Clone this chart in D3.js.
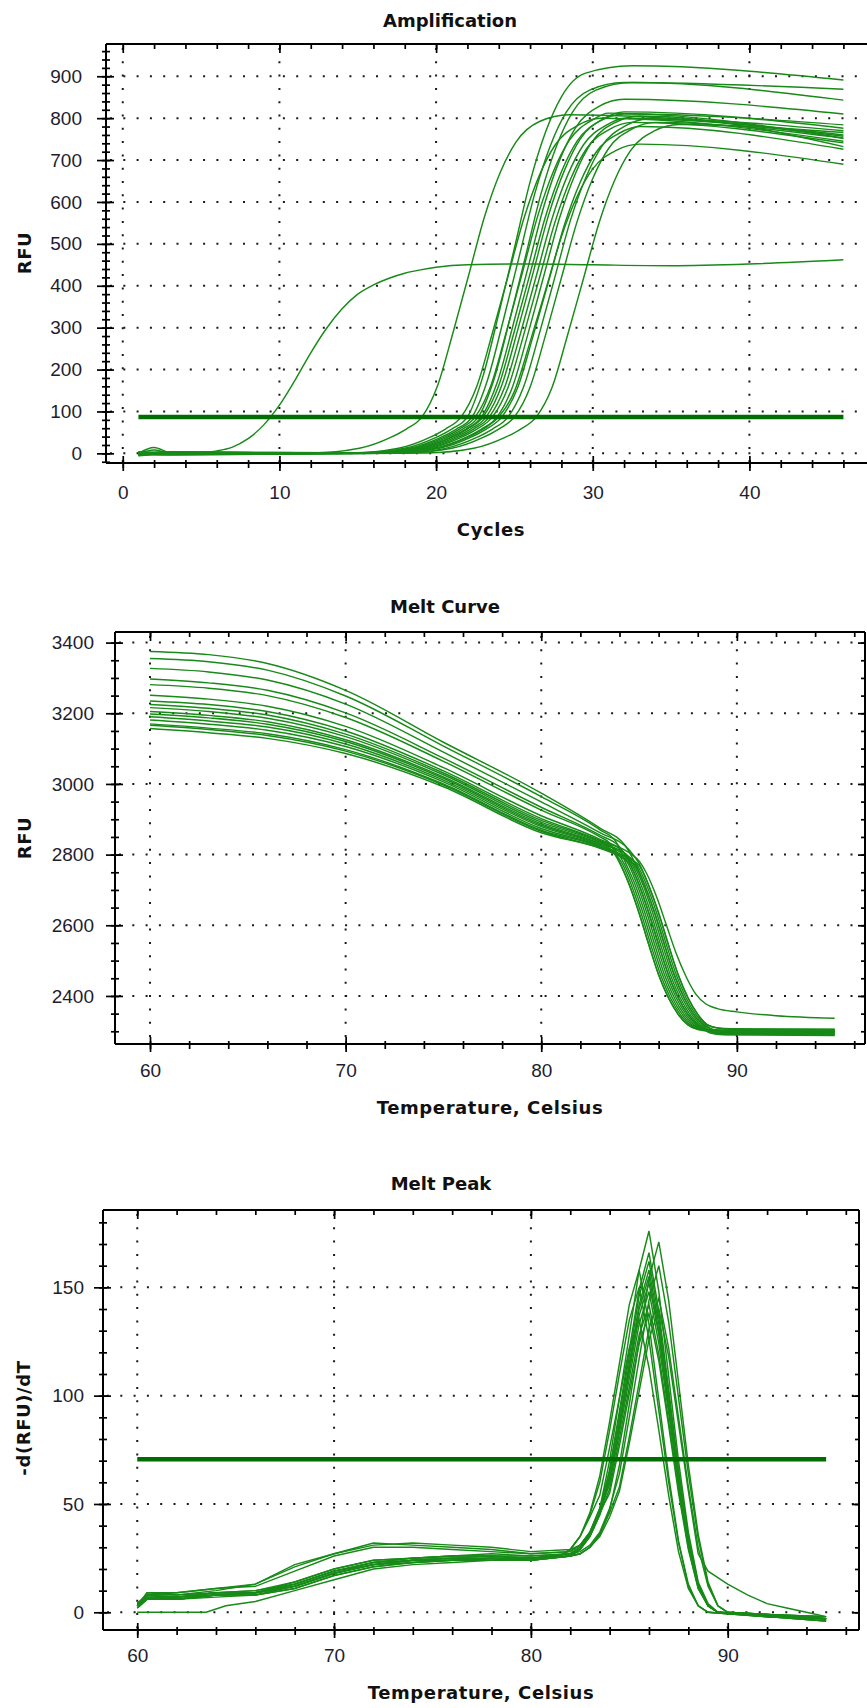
<!DOCTYPE html>
<html>
<head>
<meta charset="utf-8">
<script src="https://cdn.jsdelivr.net/npm/d3@7"></script>
<style>
  body { margin: 0; background: #fff; }
  svg { display: block; }
  .ttl { font-family: "DejaVu Sans", sans-serif; font-weight: bold; font-size: 18px; fill: #111; }
  .alab { font-family: "DejaVu Sans", sans-serif; font-weight: bold; font-size: 18px; fill: #111; letter-spacing: 0.6px; }
  .tick text { font-family: "Liberation Sans", Arial, sans-serif; font-size: 19px; fill: #1d1d30; }
</style>
</head>
<body>
<script>
// --- qPCR run: amplification / melt curve / melt peak ----------------------

// Amplification: RFU per cycle, one entry per well
const ampCurves = [
  [[1,0],[2,14],[3,2],[4,0],[5,2],[6,6],[7,15],[8,35],[9,68],[10,115],[11,175],[12,240],[13,298],[14,345],[15,380],[16,402],[17,418],[18,430],[19,438],[20,444],[22,450],[26,452],[30,450],[35,448],[40,452],[46,462]],
  [[1,-2],[3,3],[12.1,1],[15.1,12],[17.1,38],[18.1,58],[19.1,87],[20.1,162],[21.1,291],[22.1,428],[23.1,566],[24.1,671],[25.1,743],[26.6,792],[28.5,808],[46,760]],
  [[1,-3],[3,2],[14.6,1],[17.6,12],[19.6,38],[20.6,58],[21.6,87],[22.6,160],[23.6,288],[24.6,424],[25.6,560],[26.6,664],[27.6,736],[29.1,784],[30.5,800],[46,745]],
  [[1,2],[3,-2],[15,1],[18,12],[20,38],[21,58],[22,87],[23,185],[24,333],[25,490],[26,648],[27,768],[28,851],[29.5,907],[32.5,925],[46,891]],
  [[1,-4],[3,1],[15.3,1],[18.3,12],[20.3,38],[21.3,58],[22.3,87],[23.3,177],[24.3,319],[25.3,469],[26.3,620],[27.3,735],[28.3,814],[29.8,867],[32,885],[46,869]],
  [[1,3],[3,-3],[15.5,0],[18.5,12],[20.5,38],[21.5,58],[22.5,87],[23.5,162],[24.5,292],[25.5,430],[26.5,568],[27.5,674],[28.5,747],[30,796],[31,812],[46,752]],
  [[1,-1],[2,8],[3,1],[15.7,1],[18.7,12],[20.7,38],[21.7,58],[22.7,87],[23.7,177],[24.7,319],[25.7,469],[26.7,620],[27.7,735],[28.7,814],[30.2,867],[32.5,885],[46,843]],
  [[1,-5],[3,0],[15.9,1],[18.9,12],[20.9,38],[21.9,58],[22.9,87],[23.9,169],[24.9,304],[25.9,448],[26.9,592],[27.9,701],[28.9,777],[30.4,828],[32,845],[46,810]],
  [[1,1],[3,4],[16,0],[19,12],[21,38],[22,58],[23,87],[24,162],[25,292],[26,429],[27,567],[28,672],[29,745],[30.5,794],[32,810],[46,784]],
  [[1,-2],[3,-4],[16.2,0],[19.2,12],[21.2,38],[22.2,58],[23.2,87],[24.2,163],[25.2,293],[26.2,432],[27.2,571],[28.2,676],[29.2,750],[30.7,799],[32,815],[46,776]],
  [[1,4],[3,1],[16.4,1],[19.4,12],[21.4,38],[22.4,58],[23.4,87],[24.4,160],[25.4,288],[26.4,424],[27.4,560],[28.4,664],[29.4,736],[30.9,784],[32,800],[46,757]],
  [[1,-3],[3,2],[16.6,1],[19.6,12],[21.6,38],[22.6,58],[23.6,87],[24.6,158],[25.6,284],[26.6,419],[27.6,553],[28.6,656],[29.6,727],[31.1,774],[32.5,790],[46,741]],
  [[1,0],[3,-2],[16.9,0],[19.9,12],[21.9,38],[22.9,58],[23.9,87],[24.9,161],[25.9,290],[26.9,427],[27.9,564],[28.9,668],[29.9,741],[31.4,789],[33,805],[46,732]],
  [[1,-6],[3,-1],[17.2,1],[20.2,12],[22.2,38],[23.2,58],[24.2,87],[25.2,156],[26.2,281],[27.2,413],[28.2,546],[29.2,647],[30.2,718],[31.7,764],[33,780],[46,726]],
  [[1,2],[3,0],[17,1],[20,12],[22,38],[23,58],[24,87],[25,148],[26,266],[27,391],[28,517],[29,613],[30,679],[31.5,723],[33,738],[46,690]],
  [[1,-1],[3,3],[18,1],[21,12],[23,38],[24,58],[25,87],[26,158],[27,284],[28,419],[29,553],[30,656],[31,727],[32.5,774],[34,790],[46,752]],
  [[1,-4],[3,-1],[19.4,1],[22.4,12],[24.4,38],[25.4,58],[26.4,87],[27.4,157],[28.4,283],[29.4,416],[30.4,550],[31.4,652],[32.4,722],[33.9,769],[35.5,785],[46,766]],
  [[1,1],[3,-3],[17.6,0],[20.6,12],[22.6,38],[23.6,58],[24.6,87],[25.6,160],[26.6,287],[27.6,423],[28.6,559],[29.6,662],[30.6,734],[32.1,782],[33.5,798],[46,770]]
];
const ampThreshold = { value: 87, from: 1, to: 46 };

// Melt curve: RFU vs temperature
const meltCurves = [
  [[60,3375],[63,3366],[66,3341],[70,3265],[75,3118],[80,2974],[83,2875],[84.3,2825],[84.8,2775],[85.3,2712],[85.8,2635],[86.3,2545],[86.8,2460],[87.3,2395],[87.8,2348],[88.3,2318],[88.8,2305],[89.5,2302],[95,2300]],
  [[60,3355],[63,3346],[66,3322],[70,3249],[75,3107],[80,2964],[83,2870],[83.8,2838],[84.3,2778],[84.8,2715],[85.3,2635],[85.8,2545],[86.3,2460],[86.8,2395],[87.3,2348],[87.8,2318],[88.3,2305],[89,2298],[95,2296]],
  [[60,3327],[63,3317],[66,3294],[70,3226],[75,3090],[80,2949],[83,2862],[84.5,2813],[85,2775],[85.5,2712],[86,2635],[86.5,2545],[87,2460],[87.5,2395],[88,2348],[88.5,2318],[89,2309],[89.7,2306],[95,2305]],
  [[60,3297],[63,3286],[66,3265],[70,3201],[75,3073],[80,2934],[83,2855],[84,2822],[84.5,2778],[85,2715],[85.5,2635],[86,2545],[86.5,2460],[87,2395],[87.5,2348],[88,2318],[88.5,2302],[89.2,2294],[95,2292]],
  [[60,3281],[63,3271],[66,3250],[70,3188],[75,3064],[80,2926],[83,2850],[83.5,2832],[84,2778],[84.5,2715],[85,2635],[85.5,2545],[86,2460],[86.5,2395],[87,2348],[87.5,2318],[88,2305],[88.7,2300],[95,2298]],
  [[60,3251],[63,3240],[66,3220],[70,3163],[75,3046],[80,2910],[83,2843],[84.2,2808],[84.7,2773],[85.2,2715],[85.7,2635],[86.2,2545],[86.7,2460],[87.2,2395],[87.7,2348],[88.2,2316],[88.7,2298],[89.4,2292],[95,2290]],
  [[60,3235],[63,3225],[66,3205],[70,3150],[75,3037],[80,2902],[83,2840],[84.9,2788],[85.4,2745],[85.9,2680],[86.4,2600],[86.9,2520],[87.4,2455],[87.9,2405],[88.4,2378],[89,2364],[90,2355],[92,2344],[95,2337]],
  [[60,3225],[63,3214],[66,3195],[70,3141],[75,3031],[80,2897],[83,2837],[83.7,2818],[84.2,2778],[84.7,2715],[85.2,2635],[85.7,2545],[86.2,2460],[86.7,2395],[87.2,2348],[87.7,2318],[88.2,2306],[88.9,2303],[95,2302]],
  [[60,3216],[63,3205],[66,3186],[70,3134],[75,3026],[80,2892],[83,2835],[84.4,2798],[84.9,2770],[85.4,2712],[85.9,2635],[86.4,2545],[86.9,2460],[87.4,2395],[87.9,2348],[88.4,2318],[88.9,2300],[89.6,2295],[95,2294]],
  [[60,3205],[63,3194],[66,3176],[70,3125],[75,3020],[80,2887],[83,2832],[84.1,2804],[84.6,2775],[85.1,2715],[85.6,2635],[86.1,2545],[86.6,2460],[87.1,2395],[87.6,2348],[88.1,2316],[88.6,2296],[89.3,2290],[95,2288]],
  [[60,3198],[63,3187],[66,3169],[70,3120],[75,3016],[80,2883],[83,2830],[83.5,2818],[84,2778],[84.5,2715],[85,2635],[85.5,2545],[86,2460],[86.5,2395],[87,2348],[87.5,2318],[88,2306],[88.7,2302],[95,2300]],
  [[60,3190],[63,3178],[66,3161],[70,3113],[75,3011],[80,2879],[83,2827],[84.5,2788],[85,2770],[85.5,2712],[86,2635],[86.5,2545],[87,2460],[87.5,2395],[88,2348],[88.5,2318],[89,2310],[89.7,2307],[95,2306]],
  [[60,3181],[63,3169],[66,3152],[70,3106],[75,3006],[80,2874],[83,2825],[83.9,2804],[84.4,2778],[84.9,2715],[85.4,2635],[85.9,2545],[86.4,2460],[86.9,2395],[87.4,2348],[87.9,2318],[88.4,2303],[89.1,2298],[95,2296]],
  [[60,3170],[63,3158],[66,3142],[70,3097],[75,3000],[80,2869],[83,2822],[84.3,2789],[84.8,2770],[85.3,2712],[85.8,2635],[86.3,2545],[86.8,2460],[87.3,2395],[87.8,2348],[88.3,2316],[88.8,2296],[89.5,2291],[95,2290]],
  [[60,3166],[63,3154],[66,3137],[70,3093],[75,2997],[80,2866],[83,2820],[83.6,2809],[84.1,2778],[84.6,2715],[85.1,2635],[85.6,2545],[86.1,2460],[86.6,2395],[87.1,2348],[87.6,2318],[88.1,2306],[88.8,2303],[95,2302]],
  [[60,3157],[63,3145],[66,3129],[70,3086],[75,2992],[80,2862],[83,2818],[84,2795],[84.5,2775],[85,2715],[85.5,2635],[86,2545],[86.5,2460],[87,2395],[87.5,2348],[88,2318],[88.5,2303],[89.2,2299],[95,2298]]
];

// Melt peak: -d(RFU)/dT vs temperature
const peakCurves = [
  [[60,3],[60.5,9],[62,8],[64,10],[66,13],[68,21],[70,27],[72,32],[74,31],[76,30],[78,29],[80,27],[82,28],[82.5,31],[83,37],[83.5,48],[84,70],[84.5,99],[85,128],[85.5,158],[86,176],[86.5,148],[87,109],[87.5,70],[88,37],[88.5,14],[89,4],[89.5,0],[91,-1],[93,-2],[95,-3]],
  [[60,4],[60.5,7],[62,6],[64,8],[66,8],[68,12],[70,18],[72,22],[74,24],[76,25],[78,25],[80,25],[82,26],[82.5,27],[83,30],[83.5,36],[84,47],[84.5,68],[85,96],[85.5,125],[86,154],[86.5,171],[87,144],[87.5,106],[88,68],[88.5,36],[89,14],[89.5,3],[90,0],[92,-1],[95,-2]],
  [[60,2],[60.5,6],[62,7],[64,9],[66,9],[68,13],[70,19],[72,23],[74,25],[76,26],[78,26],[80,25],[82,27],[82.5,30],[83,36],[83.5,47],[84,66],[84.5,93],[85,121],[85.5,149],[86,166],[86.5,139],[87,103],[87.5,66],[88,35],[88.5,13],[89,3],[89.5,0],[92,-2],[95,-3]],
  [[60,3],[60.5,8],[62,9],[64,11],[66,12],[68,19],[70,26],[72,30],[74,30],[76,29],[78,28],[80,27],[82,28],[82.5,31],[83,37],[83.5,48],[84,65],[84.5,91],[85,118],[85.5,146],[86,162],[86.5,136],[87,100],[87.5,65],[88,34],[88.5,13],[89,3],[89.5,0],[92,-1],[95,-2]],
  [[60,3],[60.5,7],[62,7],[64,8],[66,9],[68,13],[70,19],[72,23],[74,24],[76,25],[78,24],[80,25],[81.5,26],[82,29],[82.5,35],[83,46],[83.5,63],[84,88],[84.5,115],[85,142],[85.5,158],[86,133],[86.5,98],[87,63],[87.5,33],[88,13],[88.5,3],[89,0],[92,-2],[95,-4]],
  [[60,4],[60.5,8],[62,6],[64,7],[66,8],[68,11],[70,17],[72,21],[74,23],[76,24],[78,25],[80,24],[82,26],[82.5,29],[83,35],[83.5,46],[84,62],[84.5,87],[85,113],[85.5,140],[86,155],[86.5,130],[87,96],[87.5,62],[88,33],[88.5,12],[89,3],[89.5,0],[92,-1],[95,-3]],
  [[60,3],[60.5,6],[62,6],[64,8],[66,9],[68,12],[70,18],[72,22],[74,24],[76,24],[78,25],[80,25],[82,26],[82.5,27],[83,30],[83.5,35],[84,44],[84.5,56],[85,78],[85.5,102],[86,126],[86.5,140],[87,118],[87.5,87],[88,56],[88.5,27],[89,19],[90,13],[91,8],[92,4],[93,2],[94,0],[95,-2]],
  [[60,0],[62,0],[63.5,0],[64.5,3],[66,5],[68,10],[70,15],[72,20],[74,22],[76,23],[78,24],[80,24],[82,26],[82.5,29],[83,35],[83.5,45],[84,61],[84.5,85],[85,111],[85.5,137],[86,152],[86.5,128],[87,94],[87.5,61],[88,32],[88.5,12],[89,3],[89.5,0],[92,-2],[95,-3]],
  [[60,4],[60.5,8],[62,7],[64,9],[66,10],[68,14],[70,20],[72,24],[74,25],[76,26],[78,26],[80,26],[82,27],[82.5,28],[83,31],[83.5,37],[84,48],[84.5,64],[85,90],[85.5,117],[86,144],[86.5,160],[87,134],[87.5,99],[88,64],[88.5,34],[89,13],[89.5,3],[90,0],[92,-1],[95,-3]],
  [[60,3],[60.5,9],[62,9],[64,11],[66,13],[68,22],[70,27],[72,31],[74,32],[76,31],[78,30],[80,28],[82,29],[82.5,31],[83,37],[83.5,47],[84,59],[84.5,83],[85,108],[85.5,133],[86,148],[86.5,124],[87,92],[87.5,59],[88,31],[88.5,12],[89,3],[89.5,0],[92,-2],[95,-3]],
  [[60,2],[60.5,6],[62,6],[64,8],[66,9],[68,12],[70,18],[72,22],[74,24],[76,24],[78,25],[80,25],[81.5,26],[82,29],[82.5,35],[83,45],[83.5,60],[84,84],[84.5,110],[85,135],[85.5,150],[86,126],[86.5,93],[87,60],[87.5,32],[88,12],[88.5,3],[89,0],[92,-2],[95,-4]],
  [[60,3],[60.5,7],[62,7],[64,9],[66,9],[68,13],[70,19],[72,22],[74,24],[76,25],[78,25],[80,24],[82,26],[82.5,27],[83,30],[83.5,36],[84,46],[84.5,58],[85,81],[85.5,106],[86,131],[86.5,145],[87,122],[87.5,90],[88,58],[88.5,30],[89,12],[89.5,3],[90,0],[92,-1],[95,-2]],
  [[60,4],[60.5,7],[62,6],[64,8],[66,8],[68,11],[70,17],[72,21],[74,23],[76,24],[78,24],[80,24],[82,26],[82.5,29],[83,35],[83.5,45],[84,57],[84.5,80],[85,104],[85.5,128],[86,142],[86.5,119],[87,88],[87.5,57],[88,30],[88.5,11],[89,3],[89.5,0],[92,-2],[95,-3]],
  [[60,3],[60.5,8],[62,7],[64,9],[66,10],[68,13],[70,19],[72,23],[74,25],[76,25],[78,26],[80,25],[82,27],[82.5,30],[83,36],[83.5,46],[84,55],[84.5,77],[85,101],[85.5,124],[86,138],[86.5,116],[87,86],[87.5,55],[88,29],[88.5,11],[89,3],[89.5,0],[92,-1],[95,-3]],
  [[60,2],[60.5,6],[62,7],[64,8],[66,9],[68,12],[70,18],[72,22],[74,23],[76,24],[78,24],[80,25],[81.5,26],[82,29],[82.5,35],[83,44],[83.5,54],[84,76],[84.5,99],[85,122],[85.5,135],[86,113],[86.5,84],[87,54],[87.5,28],[88,11],[88.5,3],[89,0],[92,-2],[95,-4]],
  [[60,4],[60.5,8],[62,8],[64,9],[66,9],[68,14],[70,20],[72,24],[74,25],[76,26],[78,27],[80,26],[82,27],[82.5,30],[83,36],[83.5,47],[84,63],[84.5,88],[85,115],[85.5,142],[86,158],[86.5,133],[87,98],[87.5,63],[88,33],[88.5,13],[89,3],[89.5,0],[92,-2],[95,-3]]
];
const peakThreshold = { value: 70.6, from: 60, to: 95 };

// tick values
const ampXMajor = [0, 10, 20, 30, 40];
const ampXMinor = d3.range(0, 47, 2);
const ampYMajor = [0, 100, 200, 300, 400, 500, 600, 700, 800, 900];
const ampYMinor = d3.range(-20, 961, 20);
const tempMajor = [60, 70, 80, 90];
const tempMinor = d3.range(60, 97, 2);
const meltYMajor = [2400, 2600, 2800, 3000, 3200, 3400];
const meltYMinor = d3.range(2300, 3401, 50);
const peakYMajor = [0, 50, 100, 150];
const peakYMinor = d3.range(0, 181, 10);

// --- drawing ---------------------------------------------------------------

const GREEN = '#178a17';
const DARK = '#006d00';

const svg = d3.select('body').append('svg')
  .attr('width', 867).attr('height', 1708);

function drawPanel(p) {
  const x = d3.scaleLinear().domain(p.xDom).range([p.left, p.right]);
  const y = d3.scaleLinear().domain(p.yDom).range([p.bottom, p.top]);
  const g = svg.append('g');

  // dotted grid
  const grid = g.append('g')
    .attr('stroke', '#1a1a1a').attr('stroke-width', 2).attr('stroke-dasharray', '2 11.3');
  grid.selectAll('line.v').data(p.xMajor).join('line').attr('class', 'v')
    .attr('x1', d => x(d)).attr('x2', d => x(d))
    .attr('y1', p.top + 4).attr('y2', p.bottom);
  grid.selectAll('line.h').data(p.yMajor).join('line').attr('class', 'h')
    .attr('x1', p.left + 4).attr('x2', Math.min(p.right, 867))
    .attr('y1', d => y(d)).attr('y2', d => y(d));

  // curves
  const line = d3.line().x(d => x(d[0])).y(d => y(d[1])).curve(p.curve);
  g.append('g').selectAll('path').data(p.series).join('path')
    .attr('d', line).attr('fill', 'none')
    .attr('stroke', GREEN).attr('stroke-width', 1.45);

  // threshold
  if (p.thr) {
    g.append('line')
      .attr('x1', x(p.thr.from)).attr('x2', x(p.thr.to))
      .attr('y1', y(p.thr.value)).attr('y2', y(p.thr.value))
      .attr('stroke', DARK).attr('stroke-width', 4.5);
  }

  const noDomain = s => s.select('.domain').remove();
  const fmt = d3.format('d');

  // bottom axis (ticks cross the line)
  const bMin = g.append('g').attr('transform', `translate(0,${p.bottom})`)
    .call(d3.axisBottom(x).tickValues(p.xMinor).tickSize(5).tickFormat('')).call(noDomain);
  bMin.selectAll('.tick line').attr('y1', -3);
  const bMaj = g.append('g').attr('transform', `translate(0,${p.bottom})`)
    .call(d3.axisBottom(x).tickValues(p.xMajor).tickSize(8).tickFormat(fmt)).call(noDomain);
  bMaj.selectAll('.tick line').attr('y1', -7);
  bMaj.selectAll('.tick text').attr('y', p.xLabY - p.bottom).attr('dy', 0)
    .attr('font-size', null).attr('font-family', null);

  // top axis (inward)
  g.append('g').attr('transform', `translate(0,${p.top})`)
    .call(d3.axisBottom(x).tickValues(p.xMinor).tickSize(5).tickFormat('')).call(noDomain);
  g.append('g').attr('transform', `translate(0,${p.top})`)
    .call(d3.axisBottom(x).tickValues(p.xMajor).tickSize(9).tickFormat('')).call(noDomain);

  // left axis
  const lMin = g.append('g').attr('transform', `translate(${p.left},0)`)
    .call(d3.axisLeft(y).tickValues(p.yMinor).tickSize(4).tickFormat('')).call(noDomain);
  lMin.selectAll('.tick line').attr('x1', 4);
  const lMaj = g.append('g').attr('transform', `translate(${p.left},0)`)
    .call(d3.axisLeft(y).tickValues(p.yMajor).tickSize(9).tickFormat(fmt)).call(noDomain);
  lMaj.selectAll('.tick line').attr('x1', 8);
  lMaj.selectAll('.tick text').attr('x', p.yLabX - p.left)
    .attr('font-size', null).attr('font-family', null);

  // right axis (inward)
  if (p.right < 867) {
    g.append('g').attr('transform', `translate(${p.right},0)`)
      .call(d3.axisLeft(y).tickValues(p.yMinor).tickSize(-4).tickFormat('')).call(noDomain)
      .selectAll('.tick line').attr('x2', -4);
    g.append('g').attr('transform', `translate(${p.right},0)`)
      .call(d3.axisLeft(y).tickValues(p.yMajor).tickSize(-7).tickFormat('')).call(noDomain)
      .selectAll('.tick line').attr('x2', -7);
  }
  g.selectAll('.tick line').attr('stroke', '#000').attr('stroke-width', 1.7);

  // frame
  const frame = g.append('g').attr('stroke', '#000').attr('stroke-width', 2).attr('fill', 'none');
  frame.append('line').attr('x1', p.left).attr('x2', p.left).attr('y1', p.top).attr('y2', p.bottom);
  frame.append('line').attr('x1', p.left).attr('x2', p.right).attr('y1', p.top).attr('y2', p.top);
  frame.append('line').attr('x1', p.left).attr('x2', p.right).attr('y1', p.bottom).attr('y2', p.bottom);
  if (p.right < 867) {
    frame.append('line').attr('x1', p.right).attr('x2', p.right).attr('y1', p.top).attr('y2', p.bottom);
  }

  // titles
  g.append('text').attr('class', 'ttl').attr('x', p.title[1]).attr('y', p.title[2])
    .attr('text-anchor', 'middle').text(p.title[0]);
  g.append('text').attr('class', 'alab').attr('x', p.xTitle[1]).attr('y', p.xTitle[2])
    .attr('text-anchor', 'middle').text(p.xTitle[0]);
  g.append('text').attr('class', 'alab')
    .attr('transform', `translate(${p.yTitle[1]},${p.yTitle[2]}) rotate(-90)`)
    .attr('text-anchor', 'middle').text(p.yTitle[0]);
}

drawPanel({
  left: 106, right: 868, top: 44, bottom: 463,
  xDom: [-1.07, 47.57], yDom: [-23, 977],
  xMajor: ampXMajor, xMinor: ampXMinor, yMajor: ampYMajor, yMinor: ampYMinor,
  xLabY: 499, yLabX: 82,
  series: ampCurves, curve: d3.curveMonotoneX, thr: ampThreshold,
  title: ['Amplification', 450, 27],
  xTitle: ['Cycles', 491, 536],
  yTitle: ['RFU', 31, 253]
});

drawPanel({
  left: 115, right: 865, top: 632, bottom: 1044,
  xDom: [58.21, 96.55], yDom: [2264, 3430],
  xMajor: tempMajor, xMinor: tempMinor, yMajor: meltYMajor, yMinor: meltYMinor,
  xLabY: 1077, yLabX: 94,
  series: meltCurves, curve: d3.curveMonotoneX, thr: null,
  title: ['Melt Curve', 445, 613],
  xTitle: ['Temperature, Celsius', 490, 1114],
  yTitle: ['RFU', 31, 838]
});

drawPanel({
  left: 103, right: 859, top: 1210, bottom: 1630,
  xDom: [58.26, 96.67], yDom: [-8.17, 185.7],
  xMajor: tempMajor, xMinor: tempMinor, yMajor: peakYMajor, yMinor: peakYMinor,
  xLabY: 1662, yLabX: 84,
  series: peakCurves, curve: d3.curveLinear, thr: peakThreshold,
  title: ['Melt Peak', 441, 1190],
  xTitle: ['Temperature, Celsius', 481, 1699],
  yTitle: ['-d(RFU)/dT', 30, 1418]
});
</script>
</body>
</html>
